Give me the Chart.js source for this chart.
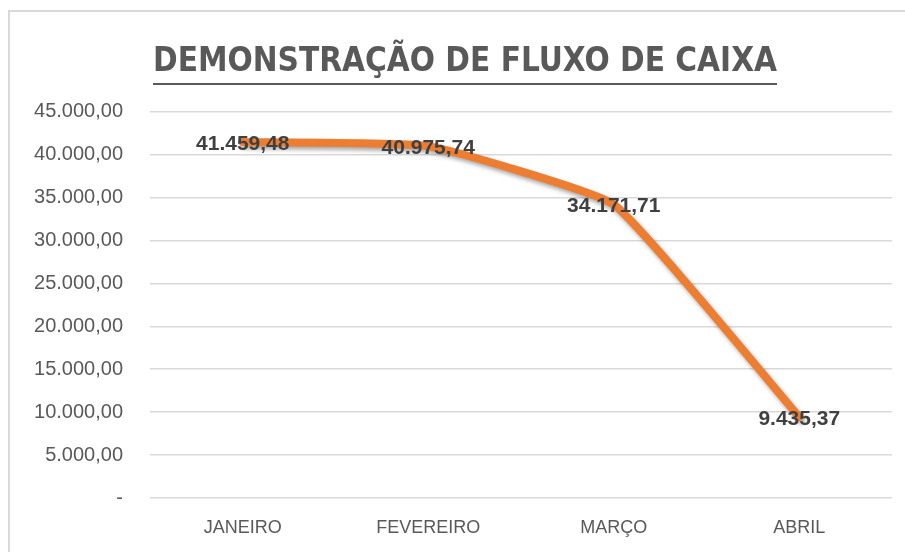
<!DOCTYPE html>
<html>
<head>
<meta charset="utf-8">
<script src="https://cdn.jsdelivr.net/npm/chart.js@4.4.1/dist/chart.umd.min.js"></script>
<style>
html,body{margin:0;padding:0;background:#fff;}
#wrap{position:relative;width:905px;height:552px;}
</style>
</head>
<body>
<div id="wrap"><canvas id="c" width="905" height="552"></canvas></div>
<script>
const titleText = "DEMONSTRAÇÃO DE FLUXO DE CAIXA";
const months = ["JANEIRO", "FEVEREIRO", "MARÇO", "ABRIL"];
const saldo = [41459.48, 40975.74, 34171.71, 9435.37];
const yTicks = [0, 5000, 10000, 15000, 20000, 25000, 30000, 35000, 40000, 45000];

const fmt = v => v.toLocaleString('pt-BR', {minimumFractionDigits: 2, maximumFractionDigits: 2});

const TITLE_FONT = { family: '"DejaVu Sans Condensed", "DejaVu Sans", sans-serif', size: 33, weight: 'bold' };

const frame = {
  id: 'frame',
  afterLayout(chart) {
    if (chart.titleBlock) chart.titleBlock.left += 28;
  },
  beforeDraw(chart) {
    const ctx = chart.ctx;
    ctx.save();
    ctx.fillStyle = '#fff';
    ctx.fillRect(0, 0, chart.width, chart.height);
    ctx.strokeStyle = '#d9d9d9';
    ctx.lineWidth = 2;
    ctx.beginPath();
    ctx.moveTo(9, 552);
    ctx.lineTo(9, 11);
    ctx.lineTo(905, 11);
    ctx.stroke();
    ctx.restore();
  }
};

const titleUnderline = {
  id: 'titleUnderline',
  afterDraw(chart) {
    const t = chart.titleBlock;
    const ctx = chart.ctx;
    ctx.save();
    ctx.font = TITLE_FONT.weight + ' ' + TITLE_FONT.size + 'px ' + TITLE_FONT.family;
    const w = ctx.measureText(titleText).width;
    const cx = (t.left + t.right) / 2;
    ctx.strokeStyle = '#595959';
    ctx.lineWidth = 2;
    ctx.beginPath();
    ctx.moveTo(cx - w / 2, 84);
    ctx.lineTo(cx + w / 2, 84);
    ctx.stroke();
    ctx.restore();
  }
};

const shadow = {
  id: 'shadow',
  beforeDatasetDraw(chart) {
    const ctx = chart.ctx;
    ctx.save();
    ctx.shadowColor = 'rgba(0,0,0,0.35)';
    ctx.shadowBlur = 4;
    ctx.shadowOffsetX = 2;
    ctx.shadowOffsetY = 3;
  },
  afterDatasetDraw(chart) {
    chart.ctx.restore();
  }
};

const valueLabels = {
  id: 'valueLabels',
  afterDatasetsDraw(chart) {
    const ctx = chart.ctx;
    const meta = chart.getDatasetMeta(0);
    ctx.save();
    ctx.font = 'bold 21px "Liberation Sans", sans-serif';
    ctx.fillStyle = '#404040';
    ctx.textAlign = 'center';
    ctx.textBaseline = 'middle';
    meta.data.forEach((pt, i) => {
      ctx.fillText(fmt(saldo[i]), pt.x, pt.y + 2);
    });
    ctx.restore();
  }
};

new Chart(document.getElementById('c'), {
  type: 'line',
  data: {
    labels: months,
    datasets: [{
      data: saldo,
      borderColor: '#ED7D31',
      borderWidth: 8,
      tension: 0.12,
      pointRadius: 0,
      borderCapStyle: 'round',
      borderJoinStyle: 'round',
      fill: false
    }]
  },
  options: {
    responsive: false,
    animation: false,
    layout: { padding: { left: 10, right: 13, top: 0, bottom: 8 } },
    plugins: {
      legend: { display: false },
      tooltip: { enabled: false },
      title: {
        display: true,
        text: titleText,
        color: '#595959',
        font: TITLE_FONT,
        padding: { top: 43, bottom: 29 }
      }
    },
    scales: {
      x: {
        offset: true,
        grid: { display: false, drawTicks: false },
        border: { display: false },
        ticks: {
          color: '#595959',
          font: { family: '"Liberation Sans", sans-serif', size: 18 },
          padding: 19
        },
        afterFit(s) { s.height = 46; }
      },
      y: {
        min: 0,
        max: 45000,
        afterBuildTicks(s) { s.ticks = yTicks.map(v => ({ value: v })); },
        grid: { color: '#d9d9d9', lineWidth: 1.5, drawTicks: false },
        border: { display: false },
        ticks: {
          color: '#595959',
          font: { family: '"Liberation Sans", sans-serif', size: 20 },
          padding: 27,
          callback: v => v === 0 ? '-' : fmt(v)
        },
        afterFit(s) { s.width = 140; }
      }
    }
  },
  plugins: [frame, shadow, valueLabels, titleUnderline]
});
</script>
</body>
</html>
